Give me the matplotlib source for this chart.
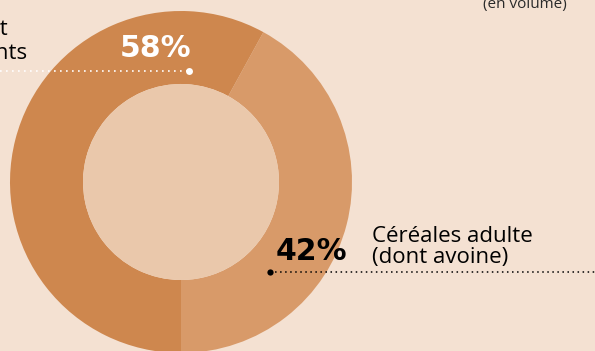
import matplotlib.pyplot as plt
from matplotlib.patches import Circle

# donut data (share of volume)
lab_adult = ['Céréales adulte', '(dont avoine)']
lab_kids = ['Céréales petit', 'déjeuner enfants']
shares = [42, 58]
pct_text = ['42%', '58%']
colors = ['#D89A69', '#CE874E']

W, H = 595, 351
fig = plt.figure(figsize=(W / 100, H / 100), dpi=100)
fig.patch.set_facecolor('#F4E1D2')
ax = fig.add_axes([0, 0, 1, 1])
ax.set_facecolor('#F4E1D2')

cx, cy = 181, H - 182
r_out, r_in = 171, 98

ax.pie(shares, colors=colors, startangle=-90, counterclock=True,
       center=(cx, cy), radius=r_out, frame=True,
       wedgeprops=dict(width=r_out - r_in, linewidth=0))
ax.add_patch(Circle((cx, cy), r_in, color='#EAC8AB', lw=0))

ax.set_xlim(0, W)
ax.set_ylim(0, H)
ax.set_aspect('equal')
ax.axis('off')

num_font = ['DejaVu Sans']
lab_font = ['Open Sans', 'DejaVu Sans']

# 58% label, white, dotted leader to the left
ax.text(155.5, H - 48.5, pct_text[1], color='white', fontsize=21.5, fontweight='bold',
        family=num_font, ha='center', va='center')
ax.plot([0, 188], [H - 70.5, H - 70.5], color='white', ls=(0, (1, 2.6)), lw=1.2)
ax.plot([188.5], [H - 70.5], 'o', color='white', ms=5, mew=0)
ax.text(8, H - 35, lab_kids[0], color='black', fontsize=16, family=lab_font,
        ha='right', va='baseline')
ax.text(27, H - 59, lab_kids[1], color='black', fontsize=16, family=lab_font,
        ha='right', va='baseline')

# 42% label, black, dotted leader to the right
ax.text(311.5, H - 251, pct_text[0], color='black', fontsize=21.5, fontweight='bold',
        family=num_font, ha='center', va='center')
ax.plot([269.5, W], [H - 272, H - 272], color='black', ls=(0, (1, 2.3)), lw=1.1)
ax.plot([269.5], [H - 272], 'o', color='black', ms=4.5, mew=0)
ax.text(372, H - 241.5, lab_adult[0], color='black', fontsize=16, family=lab_font,
        ha='left', va='baseline')
ax.text(372, H - 263, lab_adult[1], color='black', fontsize=16, family=lab_font,
        ha='left', va='baseline')

# subtitle, cut by the top edge as in the original crop
ax.text(525, H - 8.3, '(en volume)', color='#2a2a2a',
        fontsize=11, family=lab_font, ha='center', va='baseline')
ax.text(525, H + 7, 'Répartition des ventes', color='#2a2a2a',
        fontsize=11, family=lab_font, ha='center', va='baseline')

fig.savefig('out.png', dpi=100, facecolor=fig.get_facecolor())
